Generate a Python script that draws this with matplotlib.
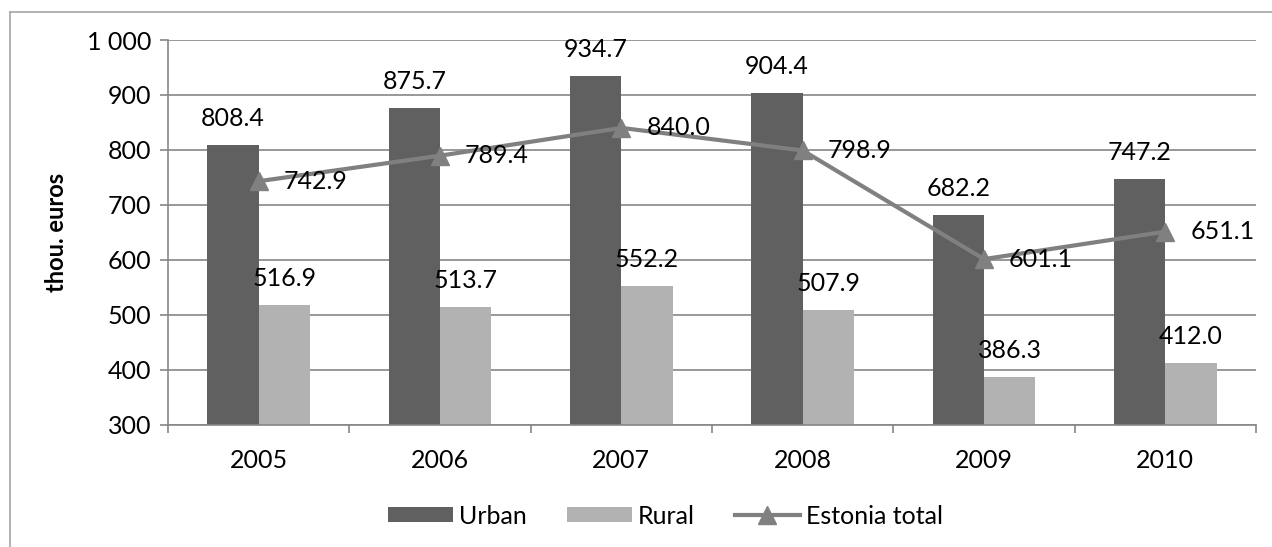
import numpy as np
import matplotlib
matplotlib.use('Agg')
from matplotlib import pyplot as plt
from matplotlib.lines import Line2D
from matplotlib.patches import Patch
from matplotlib.ticker import FuncFormatter

years = ['2005', '2006', '2007', '2008', '2009', '2010']
urban = [808.4, 875.7, 934.7, 904.4, 682.2, 747.2]
rural = [516.9, 513.7, 552.2, 507.9, 386.3, 412.0]
total = [742.9, 789.4, 840.0, 798.9, 601.1, 651.1]

plt.rcParams['font.family'] = ['Lato', 'DejaVu Sans']
fs = 18

fig = plt.figure(figsize=(12.72, 5.47), dpi=100)
ax = fig.add_axes([168 / 1272, 1 - 424.5 / 547, (1256 - 168) / 1272, (424.5 - 40) / 547])

x = np.arange(len(years))
w = 0.284
grid_c = '#868686'
c_urban = '#606060'
c_rural = '#b2b2b2'
c_line = '#808080'

ax.bar(x - w / 2, urban, w, color=c_urban, zorder=2)
ax.bar(x + w / 2, rural, w, color=c_rural, zorder=2)
ax.plot(x, total, color=c_line, lw=3, marker='^', ms=13, zorder=3)

for i in range(len(years)):
    ax.annotate(f'{urban[i]:.1f}', (x[i] - w / 2, urban[i]), xytext=(0, 19), textcoords='offset points',
                ha='center', va='center', fontsize=fs)
    ax.annotate(f'{rural[i]:.1f}', (x[i] + w / 2, rural[i]), xytext=(0, 19), textcoords='offset points',
                ha='center', va='center', fontsize=fs)
    ax.annotate(f'{total[i]:.1f}', (x[i], total[i]), xytext=(18, 0), textcoords='offset points',
                ha='left', va='center', fontsize=fs)

ax.set_ylim(300, 1000)
ax.set_xlim(-0.5, len(years) - 0.5)
ax.set_yticks(range(300, 1001, 100))
ax.yaxis.set_major_formatter(FuncFormatter(lambda v, p: f'{int(v):,}'.replace(',', ' ')))
ax.set_xticks(x)
ax.set_xticklabels(years)
ax.set_xticks(np.arange(-0.5, len(years)), minor=True)
ax.tick_params(axis='x', which='major', length=0, pad=18, labelsize=fs)
ax.tick_params(axis='x', which='minor', length=6, color=grid_c, width=1.2, direction='out')
ax.tick_params(axis='y', length=6, color=grid_c, width=1.2, labelsize=fs, pad=6)
ax.grid(axis='y', color=grid_c, lw=1.2, zorder=0)
ax.set_axisbelow(True)
for s in ['top', 'right']:
    ax.spines[s].set_visible(False)
for s in ['left', 'bottom']:
    ax.spines[s].set_color(grid_c)
    ax.spines[s].set_linewidth(1.2)

ax.set_ylabel('thou. euros', fontsize=17, fontweight='bold')
ax.yaxis.set_label_coords(-0.092, 0.5)

handles = [Patch(facecolor=c_urban), Patch(facecolor=c_rural),
           Line2D([], [], color=c_line, lw=3, marker='^', ms=13)]
fig.legend(handles, ['Urban', 'Rural', 'Estonia total'], loc='center',
           bbox_to_anchor=(0.523, 1 - 516 / 547), ncol=3, frameon=False,
           fontsize=fs, handlelength=2.6, handleheight=0.55, handletextpad=0.25, columnspacing=1.6)

# outer chart frame (only left and top edges visible)
fig.add_artist(Line2D([10 / 1272, 10 / 1272], [0, 1 - 12 / 547], color='#a6a6a6', lw=1.2))
fig.add_artist(Line2D([10 / 1272, 1], [1 - 12 / 547, 1 - 12 / 547], color='#a6a6a6', lw=1.2))

fig.savefig('out.png', dpi=100)
